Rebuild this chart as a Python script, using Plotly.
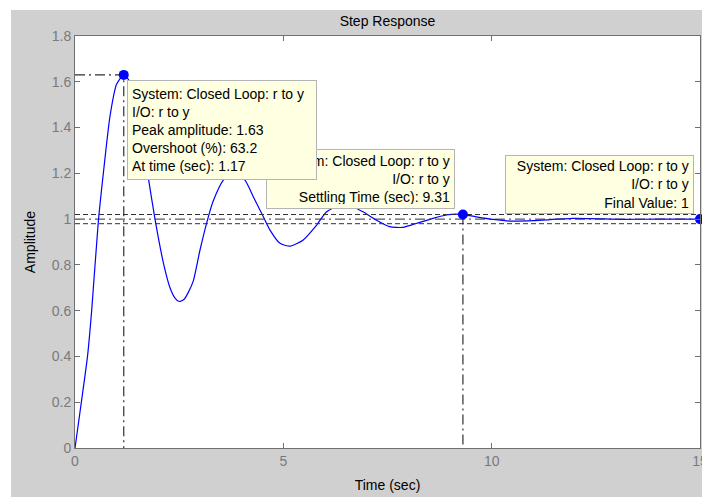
import plotly.graph_objects as go

# ---- data ----
time_s = [0, 0.16, 0.30, 0.40, 0.56, 0.68, 0.84, 1.0, 1.17, 1.35, 1.55, 1.76, 1.92, 2.12,
          2.28, 2.40, 2.50, 2.62, 2.72, 2.84, 3.0, 3.2, 3.32, 3.56, 3.82, 4.08, 4.30, 4.52, 4.68, 4.92,
          5.16, 5.47, 5.80, 6.04, 6.48, 6.91, 7.23, 7.55, 7.87, 8.19, 8.59, 8.91, 9.15,
          9.31, 9.63, 10.03, 10.5, 11.0, 11.95, 13.15, 14.0, 15.0]
amplitude = [0, 0.21, 0.40, 0.60, 0.99, 1.20, 1.45, 1.59, 1.63, 1.59, 1.42, 1.18, 1.00, 0.81,
             0.70, 0.655, 0.64, 0.65, 0.68, 0.73, 0.865, 1.01, 1.08, 1.17, 1.21, 1.17, 1.09, 1.01, 0.952, 0.894,
             0.882, 0.908, 0.974, 1.032, 1.066, 1.032, 0.996, 0.967, 0.964, 0.981, 1.003, 1.018, 1.022,
             1.02, 1.01, 0.999, 0.991, 0.993, 1.003, 0.999, 1.0, 1.0]

peak_time = 1.17
peak_amp = 1.63
overshoot_pct = 63.2
settling_time = 9.31
settling_amp = 1.02
final_time = 15.0
final_value = 1.0
band_upper = 1.02
band_lower = 0.98

x_ticks = [0, 5, 10, 15]
y_ticks = [0, 0.2, 0.4, 0.6, 0.8, 1.0, 1.2, 1.4, 1.6, 1.8]

FONT = "Liberation Sans, Arial, sans-serif"
LINE_C = "#303030"
AXIS_C = "#707070"
DASHDOT = "10px,4px,2px,4px"

fig = go.Figure()

# response curve
fig.add_trace(go.Scatter(x=time_s, y=amplitude, mode="lines",
                         line=dict(color="#0000ff", width=1.2, shape="spline", smoothing=0.6),
                         hoverinfo="skip", showlegend=False))

# characteristic reference lines
fig.add_trace(go.Scatter(x=[0, peak_time, peak_time], y=[peak_amp, peak_amp, 0], mode="lines",
                         line=dict(color=LINE_C, width=1.2, dash=DASHDOT),
                         hoverinfo="skip", showlegend=False))
fig.add_trace(go.Scatter(x=[settling_time, settling_time], y=[settling_amp, 0], mode="lines",
                         line=dict(color=LINE_C, width=1.2, dash=DASHDOT),
                         hoverinfo="skip", showlegend=False))
for lvl, dsh in [(band_upper, "5px,3px"), (final_value, DASHDOT), (band_lower, "5px,3px")]:
    fig.add_trace(go.Scatter(x=[0, final_time], y=[lvl, lvl], mode="lines",
                             line=dict(color=LINE_C, width=1, dash=dsh),
                             hoverinfo="skip", showlegend=False))

# characteristic markers
fig.add_trace(go.Scatter(x=[peak_time, settling_time, final_time],
                         y=[peak_amp, settling_amp, final_value], mode="markers",
                         marker=dict(color="#0000ff", size=10), cliponaxis=False,
                         hoverinfo="skip", showlegend=False))

tip = dict(showarrow=False, bgcolor="#ffffe1", bordercolor="#b4b4b4", borderwidth=1,
           borderpad=4, font=dict(family=FONT, size=14, color="#000000"),
           xref="x", yref="y")

fig.add_annotation(x=settling_time, y=settling_amp, xanchor="right", yanchor="bottom",
                   xshift=-8, yshift=6, width=179, height=50, align="right",
                   text="System: Closed Loop: r to y<br>I/O: r to y<br>Settling Time (sec): %.2f" % settling_time,
                   **tip)
fig.add_annotation(x=peak_time, y=peak_amp, xanchor="left", yanchor="top",
                   xshift=3, yshift=-5, width=180, height=90, align="left",
                   text=("System: Closed Loop: r to y<br>I/O: r to y<br>Peak amplitude: %.2f"
                         "<br>Overshoot (%%): %.1f<br>At time (sec): %.2f") % (peak_amp, overshoot_pct, peak_time),
                   **tip)
fig.add_annotation(x=final_time, y=final_value, xanchor="right", yanchor="bottom",
                   xshift=-6, yshift=5, width=179, height=49, align="right",
                   text="System: Closed Loop: r to y<br>I/O: r to y<br>Final Value: %g" % final_value,
                   **tip)

# white strips outside the grey figure area (top and left)
fig.add_shape(type="rect", xref="paper", yref="paper", x0=-0.2, x1=(11 - 75) / 625, y0=-0.3, y1=1.3,
              fillcolor="white", line=dict(width=0), layer="below")
fig.add_shape(type="rect", xref="paper", yref="paper", x0=-0.2, x1=1.2, y0=(448 - 10) / 412, y1=1.3,
              fillcolor="white", line=dict(width=0), layer="below")

axis_common = dict(showline=True, linecolor=AXIS_C, linewidth=1, mirror="ticks",
                   ticks="inside", ticklen=5, tickcolor=AXIS_C, showgrid=False, zeroline=False,
                   ticklabeloverflow="allow",
                   tickfont=dict(family=FONT, size=14, color="#7a7a7a"))

fig.update_xaxes(range=[0, 15], tickvals=x_ticks, ticktext=[str(v) for v in x_ticks],
                 title=dict(text="Time (sec)", font=dict(family=FONT, size=14, color="#000000"), standoff=12),
                 **axis_common)
fig.update_yaxes(range=[0, 1.8], tickvals=y_ticks, ticktext=["%g" % v for v in y_ticks],
                 title=dict(text="Amplitude", font=dict(family=FONT, size=14, color="#000000"), standoff=12),
                 **axis_common)

fig.update_layout(
    width=702, height=497,
    margin=dict(l=75, r=2, t=36, b=49, autoexpand=False),
    paper_bgcolor="#d0d0d0", plot_bgcolor="#ffffff",
    title=dict(text="Step Response", x=0.5, xref="paper", y=1 - 21 / 497, yref="container",
               yanchor="middle", font=dict(family=FONT, size=14, color="#000000")),
    font=dict(family=FONT, size=14),
    showlegend=False,
)

fig.write_html("out.html", config={"displayModeBar": False},
               post_script="document.body.style.margin='0px';document.body.style.overflow='hidden';")
